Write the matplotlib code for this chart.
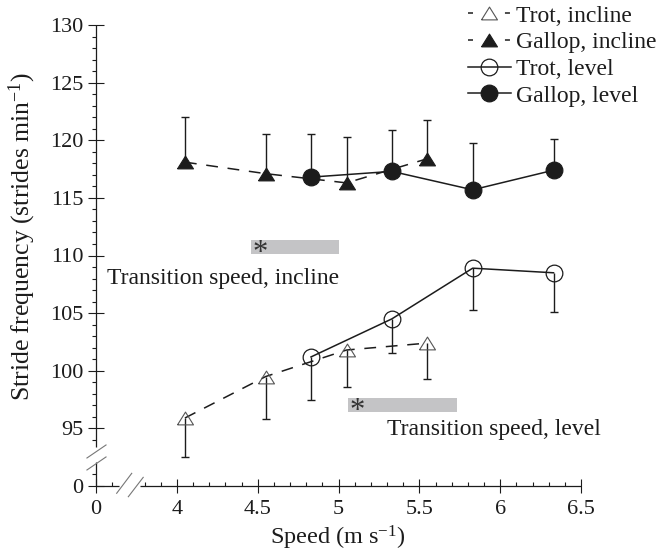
import numpy as np
import matplotlib
matplotlib.use("Agg")
import matplotlib.pyplot as plt
from matplotlib.lines import Line2D
from matplotlib.patches import Rectangle

# ---------------- data ----------------
speed_trot_incline = [4.05, 4.55, 5.05, 5.55]
freq_trot_incline = [95.9, 99.5, 101.8, 102.4]
sd_trot_incline = [3.4, 3.7, 3.2, 3.1]

speed_gallop_incline = [4.05, 4.55, 5.05, 5.55]
freq_gallop_incline = [118.1, 117.1, 116.3, 118.4]
sd_gallop_incline = [3.9, 3.4, 4.0, 3.4]

speed_trot_level = [4.83, 5.33, 5.83, 6.33]
freq_trot_level = [101.2, 104.5, 108.9, 108.5]
sd_trot_level = [3.7, 3.0, 3.6, 3.4]

speed_gallop_level = [4.83, 5.33, 5.83, 6.33]
freq_gallop_level = [116.8, 117.3, 115.7, 117.4]
sd_gallop_level = [3.7, 3.6, 4.1, 2.7]

transition_incline = [4.46, 5.00]
transition_level = [5.06, 5.73]

x_ticks = [3.5, 4, 4.5, 5, 5.5, 6, 6.5]
x_ticklabels = ["0", "4", "4.5", "5", "5.5", "6", "6.5"]
y_ticks = [90, 95, 100, 105, 110, 115, 120, 125, 130]
y_ticklabels = ["0", "95", "100", "105", "110", "115", "120", "125", "130"]

legend_labels = ["Trot, incline", "Gallop, incline", "Trot, level", "Gallop, level"]

# ---------------- style ----------------
plt.rcParams["font.family"] = ["Liberation Serif", "DejaVu Serif"]
plt.rcParams["mathtext.fontset"] = "custom"
plt.rcParams["mathtext.rm"] = "Liberation Serif"
plt.rcParams["mathtext.it"] = "Liberation Serif:italic"
plt.rcParams["lines.scale_dashes"] = False

INK = "#1c1c1c"
TXT = 17
TICK = 16
LW = 1.1
DASH = (0, (8.5, 7))
TRI = [(-1, -0.8), (1, -0.8), (0, 0.8), (-1, -0.8)]
TRI_MS = 11.5
CIR_MS = 12

fig = plt.figure(figsize=(6.61, 5.54), dpi=100)
W, H = 661, 554
ax = fig.add_axes([96 / W, 1 - 486 / H, (581 - 96) / W, (486 - 25) / H])
ax.set_xlim(3.5, 6.5)
ax.set_ylim(90, 130)
for s in ax.spines.values():
    s.set_visible(False)
ax.patch.set_visible(False)

# axis lines with breaks
axkw = dict(color=INK, lw=0.9, clip_on=False, solid_capstyle="butt")
ax.plot([3.5, 3.5], [90, 92.1], **axkw)
ax.plot([3.5, 3.5], [93.4, 130], **axkw)
ax.plot([3.5, 3.64], [90, 90], **axkw)
ax.plot([3.77, 6.5], [90, 90], **axkw)
# break marks
bkw = dict(color="#777777", lw=0.8, clip_on=False)
ax.plot([3.444, 3.562], [92.43, 93.56], **bkw)
ax.plot([3.444, 3.562], [91.39, 92.52], **bkw)
ax.plot([3.628, 3.721], [89.37, 91.10], **bkw)
ax.plot([3.700, 3.792], [89.07, 90.75], **bkw)

# ticks
ax.set_xticks(x_ticks)
ax.set_xticklabels(x_ticklabels)
ax.set_yticks(y_ticks)
ax.set_yticklabels(y_ticklabels)
xminor = [v for v in np.round(np.arange(3.6, 6.45, 0.1), 2)
          if abs(v * 2 - round(v * 2)) > 1e-6 and abs(v - 3.7) > 1e-6]
yminor = [v for v in range(91, 130) if v % 5 != 0 and v not in (92, 93)]
ax.set_xticks(xminor, minor=True)
ax.set_yticks(yminor, minor=True)
ax.tick_params(axis="x", which="major", direction="inout", length=9.5, width=0.8,
               color=INK, labelsize=TICK, pad=5, labelcolor=INK)
ax.tick_params(axis="y", which="major", direction="inout", length=12, width=0.8,
               color=INK, labelsize=TICK, pad=3, labelcolor=INK)
ax.tick_params(axis="x", which="minor", direction="in", length=3, width=0.8, color=INK)
ax.tick_params(axis="y", which="minor", direction="out", length=3, width=0.8, color=INK)

# axis titles
fig.text(338 / W, 1 - 538 / H, r"Speed (m s$^{-1}$)", fontsize=17.5, color=INK,
         ha="center", va="center")
fig.text(22 / W, 1 - 237 / H, r"Stride frequency (strides min$^{-1}$)", fontsize=18.5,
         color=INK, ha="center", va="center", rotation=90)

# ---------------- error bars (one-sided) ----------------
def errs(xs, ys, sds, up):
    xs = np.asarray(xs); ys = np.asarray(ys); sds = np.asarray(sds)
    ends = ys + sds if up else ys - sds
    ax.vlines(xs, ys, ends, color=INK, lw=1.0, zorder=2)
    ax.plot(xs, ends, ls="none", marker="_", ms=5.2, mew=1.0, color=INK, zorder=2)

errs(speed_trot_incline, freq_trot_incline, sd_trot_incline, up=False)
errs(speed_trot_level, freq_trot_level, sd_trot_level, up=False)
errs(speed_gallop_incline, freq_gallop_incline, sd_gallop_incline, up=True)
errs(speed_gallop_level, freq_gallop_level, sd_gallop_level, up=True)

# ---------------- series ----------------
ax.plot(speed_trot_incline, freq_trot_incline, ls=DASH, lw=LW, color=INK,
        marker=TRI, ms=TRI_MS, mfc="none", mec="#555555", mew=0.8, zorder=3)
ax.plot(speed_gallop_incline, freq_gallop_incline, ls=DASH, lw=LW, color=INK,
        marker=TRI, ms=TRI_MS, mfc=INK, mec=INK, mew=0.8, zorder=3)
ax.plot(speed_trot_level, freq_trot_level, ls="-", lw=LW, color=INK,
        marker="o", ms=CIR_MS, mfc="none", mec=INK, mew=0.9, zorder=4)
ax.plot(speed_gallop_level, freq_gallop_level, ls="-", lw=LW, color=INK,
        marker="o", ms=CIR_MS, mfc=INK, mec=INK, mew=0.9, zorder=4)

# ---------------- transition speed bars ----------------
box_h = 1.25
for (x0, x1), yc in ((transition_incline, 110.72), (transition_level, 97.03)):
    ax.add_patch(Rectangle((x0, yc - box_h / 2), x1 - x0, box_h,
                           facecolor="#c4c4c6", edgecolor="none", zorder=1))
    ax.text(x0 + 0.004, yc - 0.38, r"$\mathrm{*}$", ha="left", va="center",
            fontsize=22, color="#333333", zorder=2)

ax.text(3.568, 107.55, "Transition speed, incline", fontsize=TXT, color=INK,
        ha="left", va="baseline")
ax.text(5.30, 94.45, "Transition speed, level", fontsize=TXT, color=INK,
        ha="left", va="baseline")

# ---------------- legend ----------------
leg_dash = (0, (3.6, 23))
handles = [
    Line2D([], [], ls=leg_dash, lw=LW, color=INK, marker=TRI, ms=TRI_MS,
           mfc="none", mec="#555555", mew=0.8),
    Line2D([], [], ls=leg_dash, lw=LW, color=INK, marker=TRI, ms=TRI_MS,
           mfc=INK, mec=INK, mew=0.8),
    Line2D([], [], ls="-", lw=LW, color=INK, marker="o", ms=CIR_MS,
           mfc="none", mec=INK, mew=0.9),
    Line2D([], [], ls="-", lw=LW, color=INK, marker="o", ms=CIR_MS,
           mfc=INK, mec=INK, mew=0.9),
]
fig.legend(handles, legend_labels, loc="upper left",
           bbox_to_anchor=(468 / W, 1 - 5 / H), frameon=False, fontsize=TXT,
           handlelength=1.8, handletextpad=0.25, labelspacing=0.22,
           borderpad=0, borderaxespad=0, labelcolor=INK)

fig.savefig("out.png", dpi=100)
